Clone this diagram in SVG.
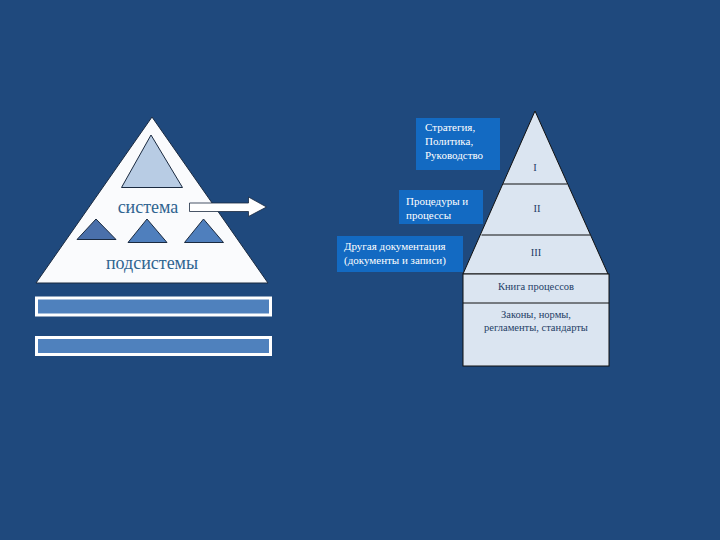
<svg xmlns="http://www.w3.org/2000/svg" width="720" height="540" viewBox="0 0 720 540">
<style>
.lbl{font-family:"Liberation Serif","Times New Roman",serif;font-size:11px;fill:#ffffff}
.pt{font-family:"Liberation Serif","Times New Roman",serif;font-size:10.5px;fill:#1f3d66;text-anchor:middle}
.big{font-family:"Liberation Serif","Times New Roman",serif;font-size:18px;fill:#2f6490;text-anchor:middle}
.box{fill:#136ac2}
.sub{stroke:#1a2a40;stroke-width:1}
</style>
<rect width="720" height="540" fill="#1f497d"/>
<g id="system-pyramid">
<polygon points="152,117 36,283 268,283" fill="#fafbfd" stroke="#1a2a40" stroke-width="1"/>
<polygon points="151,135 121.5,187.5 182.5,187.5" fill="#b8cce4" class="sub"/>
<polygon points="96,219 77,239.5 116,239.5" fill="#4a70ab" class="sub"/>
<polygon points="147,219 128,242.5 167,242.5" fill="#4f7fbd" class="sub"/>
<polygon points="203.5,219 184.5,242.5 223.5,242.5" fill="#4f7fbd" class="sub"/>
<text class="big" x="148" y="213">система</text>
<text class="big" x="152" y="269">подсистемы</text>
</g>
<g id="arrow">
<polygon points="189.5,203 248.5,203 248.5,197 266.5,207 248.5,216.5 248.5,211.5 189.5,211.5" fill="#ffffff" stroke="#1a2a40" stroke-width="0.8"/>
</g>
<g id="bars">
<rect x="36.5" y="298" width="234" height="17" fill="#4f81bd" stroke="#ffffff" stroke-width="3"/>
<rect x="36.5" y="337.5" width="234" height="17" fill="#4f81bd" stroke="#ffffff" stroke-width="3"/>
</g>
<g id="doc-pyramid">
<polygon points="535,111 463,274 608,274" fill="#dbe5f1" stroke="#111111" stroke-width="1"/>
<line x1="503" y1="184" x2="567" y2="184" stroke="#111111" stroke-width="1.2"/>
<line x1="481.5" y1="235" x2="590" y2="235" stroke="#111111" stroke-width="1.2"/>
<text class="pt" x="535" y="171">I</text>
<text class="pt" x="537" y="212">II</text>
<text class="pt" x="536" y="256">III</text>
</g>
<g id="process-book">
<rect x="463" y="274" width="146" height="92" fill="#dbe5f1" stroke="#111111" stroke-width="1"/>
<line x1="463" y1="303" x2="609" y2="303" stroke="#111111" stroke-width="1"/>
<text class="pt" x="536" y="290">Книга процессов</text>
<text class="pt" x="536" y="318">Законы, нормы,</text>
<text class="pt" x="536" y="331">регламенты, стандарты</text>
</g>
<g id="label-1">
<rect class="box" x="416" y="118" width="84" height="52"/>
<text class="lbl" x="425" y="131">Стратегия,</text>
<text class="lbl" x="425" y="145">Политика,</text>
<text class="lbl" x="425" y="159">Руководство</text>
</g>
<g id="label-2">
<rect class="box" x="399" y="190" width="84" height="34"/>
<text class="lbl" x="406" y="205">Процедуры и</text>
<text class="lbl" x="406" y="219">процессы</text>
</g>
<g id="label-3">
<rect class="box" x="337" y="236" width="126" height="36"/>
<text class="lbl" x="344" y="250">Другая документация</text>
<text class="lbl" x="344" y="264">(документы и записи)</text>
</g>
</svg>
